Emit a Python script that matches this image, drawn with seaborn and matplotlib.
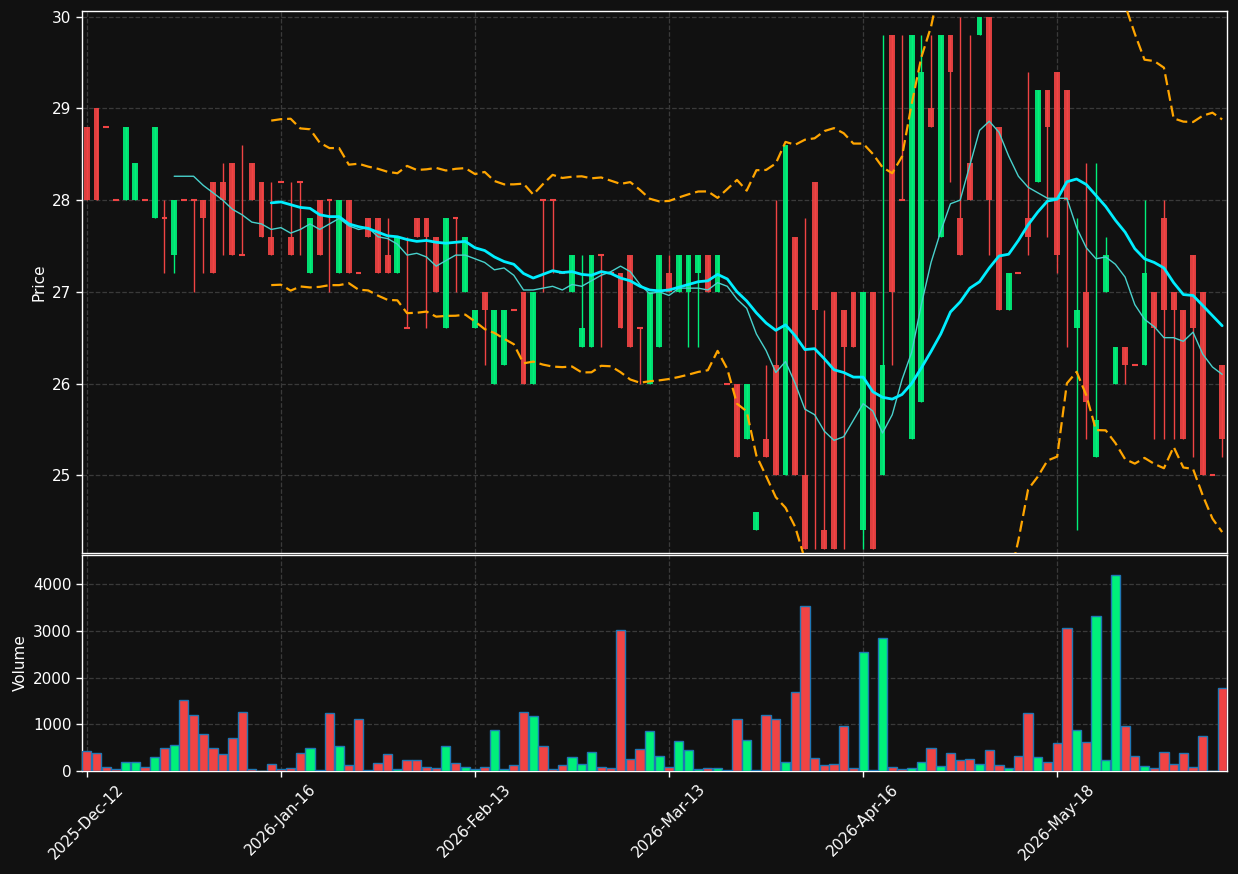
import numpy as np
import pandas as pd
import matplotlib
matplotlib.use("Agg")
import matplotlib.pyplot as plt
import seaborn as sns

# ---------------- data ----------------
tick_labels = ["2025-Dec-12", "2026-Jan-16", "2026-Feb-13",
               "2026-Mar-13", "2026-Apr-16", "2026-May-18"]
tick_step = 20

opens = [28.8, 29.0, 28.8, 28.0, 28.0, 28.0, 28.0, 27.8, 27.8, 27.4,
         28.0, 28.0, 28.0, 28.2, 28.2, 28.4, 27.4, 28.4, 28.2, 27.6,
         28.2, 27.6, 28.2, 27.2, 28.0, 28.0, 27.2, 28.0, 27.2, 27.8,
         27.8, 27.4, 27.2, 26.6, 27.8, 27.8, 27.6, 26.6, 27.8, 27.0,
         26.6, 27.0, 26.0, 26.2, 26.8, 27.0, 26.0, 28.0, 28.0, 27.2,
         27.0, 26.4, 26.4, 27.4, 27.2, 27.2, 27.4, 26.6, 26.0, 26.4,
         27.2, 27.0, 27.0, 27.2, 27.4, 27.0, 26.0, 26.0, 25.4, 24.4,
         25.4, 26.2, 25.0, 27.6, 25.0, 28.2, 24.4, 27.0, 26.8, 27.0,
         24.4, 27.0, 25.0, 29.8, 28.0, 25.4, 25.8, 29.0, 27.6, 29.8,
         27.8, 28.4, 29.8, 30.0, 28.8, 26.8, 27.2, 27.8, 28.2, 29.2,
         29.4, 29.2, 26.6, 27.0, 25.2, 27.0, 26.0, 26.4, 26.2, 26.2,
         27.0, 27.8, 27.0, 26.8, 27.4, 27.0, 25.0, 26.2]
highs = [28.8, 29.0, 28.8, 28.0, 28.8, 28.4, 28.0, 28.8, 28.0, 28.0,
         28.0, 28.0, 28.0, 28.2, 28.4, 28.4, 28.6, 28.4, 28.2, 28.2,
         28.2, 28.2, 28.2, 27.8, 28.0, 28.0, 28.0, 28.0, 27.2, 27.8,
         27.8, 27.8, 27.6, 27.6, 27.8, 27.8, 27.6, 27.8, 27.8, 27.6,
         26.8, 27.0, 26.8, 26.8, 26.8, 27.0, 27.0, 28.0, 28.0, 27.2,
         27.4, 27.4, 27.4, 27.4, 27.2, 27.2, 27.4, 26.6, 27.0, 27.4,
         27.4, 27.4, 27.4, 27.4, 27.4, 27.4, 26.0, 26.0, 26.0, 24.6,
         26.2, 28.0, 28.6, 27.6, 27.8, 28.2, 26.8, 27.0, 26.8, 27.0,
         27.0, 27.0, 29.8, 29.8, 29.8, 29.8, 29.8, 29.8, 29.8, 29.8,
         30.0, 29.8, 30.0, 30.0, 28.8, 27.2, 27.2, 29.4, 29.2, 29.2,
         29.4, 29.2, 27.8, 28.4, 28.4, 27.6, 26.4, 26.4, 26.2, 28.0,
         27.0, 28.0, 27.0, 26.8, 27.4, 27.0, 25.0, 26.2]
lows = [28.0, 28.0, 28.8, 28.0, 28.0, 28.0, 28.0, 27.8, 27.2, 27.2,
        28.0, 27.0, 27.2, 27.2, 27.4, 27.4, 27.4, 28.0, 27.6, 27.4,
        28.2, 27.4, 27.4, 27.2, 27.4, 27.0, 27.2, 27.2, 27.2, 27.6,
        27.2, 27.2, 27.2, 26.6, 27.6, 26.6, 27.0, 26.6, 27.0, 27.0,
        26.6, 26.2, 26.0, 26.2, 26.8, 26.0, 26.0, 27.0, 27.2, 27.2,
        27.0, 26.4, 26.4, 26.4, 27.2, 26.6, 26.4, 26.0, 26.0, 26.4,
        27.0, 27.0, 26.4, 26.4, 27.0, 27.0, 26.0, 25.2, 25.4, 24.4,
        25.2, 25.0, 25.0, 25.0, 24.2, 24.2, 24.2, 24.2, 24.2, 26.4,
        24.2, 24.2, 25.0, 26.2, 28.0, 25.4, 25.8, 28.8, 27.6, 28.2,
        27.4, 28.0, 29.8, 27.4, 26.8, 26.8, 27.2, 27.4, 28.2, 27.6,
        27.2, 26.4, 24.4, 25.4, 25.2, 27.0, 26.0, 26.0, 26.2, 26.2,
        25.4, 25.4, 25.4, 25.4, 25.2, 25.0, 25.0, 25.2]
closes = [28.0, 28.0, 28.8, 28.0, 28.8, 28.4, 28.0, 28.8, 27.8, 28.0,
          28.0, 28.0, 27.8, 27.2, 28.0, 27.4, 27.4, 28.0, 27.6, 27.4,
          28.2, 27.4, 28.2, 27.8, 27.4, 28.0, 28.0, 27.2, 27.2, 27.6,
          27.2, 27.2, 27.6, 26.6, 27.6, 27.6, 27.0, 27.8, 27.8, 27.6,
          26.8, 26.8, 26.8, 26.8, 26.8, 26.0, 27.0, 28.0, 28.0, 27.2,
          27.4, 26.6, 27.4, 27.4, 27.2, 26.6, 26.4, 26.6, 27.0, 27.4,
          27.0, 27.4, 27.4, 27.4, 27.0, 27.4, 26.0, 25.2, 26.0, 24.6,
          25.2, 25.0, 28.6, 25.0, 24.2, 26.8, 24.2, 24.2, 26.4, 26.4,
          27.0, 24.2, 26.2, 27.0, 28.0, 29.8, 29.4, 28.8, 29.8, 29.4,
          27.4, 28.0, 30.0, 28.0, 26.8, 27.2, 27.2, 27.6, 29.2, 28.8,
          27.4, 28.0, 26.8, 25.8, 25.6, 27.4, 26.4, 26.2, 26.2, 27.2,
          26.6, 26.8, 26.8, 25.4, 26.6, 25.0, 25.0, 25.4]
volumes = [420, 380, 90, 35, 185, 185, 95, 290, 485, 550,
           1530, 1190, 785, 485, 355, 700, 1255, 35, 0, 145,
           35, 57, 380, 485, 20, 1235, 530, 120, 1125, 20,
           165, 355, 50, 230, 230, 80, 57, 530, 165, 80,
           36, 78, 870, 50, 120, 1255, 1170, 530, 36, 120,
           290, 145, 400, 78, 57, 3030, 250, 465, 850, 315,
           78, 635, 440, 36, 57, 57, 14, 1105, 655, 14,
           1190, 1125, 185, 1685, 3545, 270, 120, 145, 955, 57,
           2560, 14, 2860, 78, 36, 57, 185, 485, 100, 380,
           228, 250, 143, 440, 120, 57, 315, 1235, 290, 185,
           590, 3075, 870, 615, 3330, 228, 4210, 975, 315, 100,
           57, 400, 143, 380, 78, 740, 0, 1790]

df = pd.DataFrame({"open": opens, "high": highs, "low": lows,
                   "close": closes, "volume": volumes})
df["x"] = np.arange(len(df))
df["ma10"] = df["close"].rolling(10).mean()
df["ma20"] = df["close"].rolling(20).mean()
std20 = df["close"].rolling(20).std(ddof=0)
df["upper"] = df["ma20"] + 2 * std20
df["lower"] = df["ma20"] - 2 * std20

# ---------------- style ----------------
BG = "#111111"
UP = "#00f07a"
DOWN = "#f04444"
sns.set_theme(style="dark", rc={
    "axes.facecolor": BG, "figure.facecolor": BG,
    "axes.edgecolor": "white", "axes.labelcolor": "white",
    "xtick.color": "white", "ytick.color": "white",
    "text.color": "white", "grid.color": "#3a3a3a",
    "grid.linestyle": "--", "grid.linewidth": 0.9,
    "axes.grid": True, "xtick.bottom": True, "ytick.left": True,
})
plt.rcParams["font.family"] = ["DejaVu Sans"]

fig = plt.figure(figsize=(12.38, 8.74), dpi=100, facecolor=BG)
ax1 = fig.add_axes([0.06624, 0.36728, 0.92488, 0.62014])
ax2 = fig.add_axes([0.06624, 0.11785, 0.92488, 0.24714], sharex=ax1)

up = df["close"] > df["open"]
colors = np.where(up, UP, DOWN)

# wicks
ax1.vlines(df["x"], df["low"], df["high"], colors=colors, linewidth=1.0, zorder=2)
# bodies
body_low = np.minimum(df["open"], df["close"])
body_h = (df["close"] - df["open"]).abs()
ax1.bar(df["x"], body_h, bottom=body_low, width=0.6, color=colors,
        linewidth=0, zorder=3, alpha=0.92)
doji = body_h == 0
ax1.hlines(df.loc[doji, "open"], df.loc[doji, "x"] - 0.3, df.loc[doji, "x"] + 0.3,
           colors=colors[doji.values], linewidth=1.5, zorder=3)

# indicator lines
sns.lineplot(data=df, x="x", y="ma10", ax=ax1, color="#48d1cc", linewidth=1.0, zorder=4)
sns.lineplot(data=df, x="x", y="ma20", ax=ax1, color="#00eeff", linewidth=2.0, zorder=5)
for col in ["upper", "lower"]:
    sns.lineplot(data=df, x="x", y=col, ax=ax1, color="#ffa500", linewidth=1.6,
                 zorder=4, linestyle=(0, (5, 2.2)))

ax1.set_ylim(24.152, 30.062)
ax1.set_xlim(-0.5, len(df) - 0.5)
ax1.set_ylabel("Price", fontsize=11)
ax1.set_xlabel("")
ax1.tick_params(axis="x", labelbottom=False, length=0)
ax1.tick_params(axis="y", labelsize=11, length=4, width=1)

# volume
ax2.bar(df["x"], df["volume"], width=0.95, color=colors, edgecolor="#1f77b4",
        linewidth=1.0, zorder=3)
ax2.set_ylim(0, df["volume"].max() * 1.1)
ax2.set_ylabel("Volume", fontsize=11)
ticks = list(range(0, len(df), tick_step))[:len(tick_labels)]
ax2.set_xticks(ticks)
ax2.set_xticklabels(tick_labels, rotation=45, fontsize=11)
ax2.tick_params(axis="x", length=4, width=1)
ax2.tick_params(axis="y", labelsize=11, length=4, width=1)

for ax in (ax1, ax2):
    ax.grid(True, color="#3a3a3a", linestyle="--", linewidth=0.9)
    for sp in ax.spines.values():
        sp.set_color("white")
        sp.set_linewidth(1.0)

fig.savefig("out.png", dpi=100, facecolor=BG)
